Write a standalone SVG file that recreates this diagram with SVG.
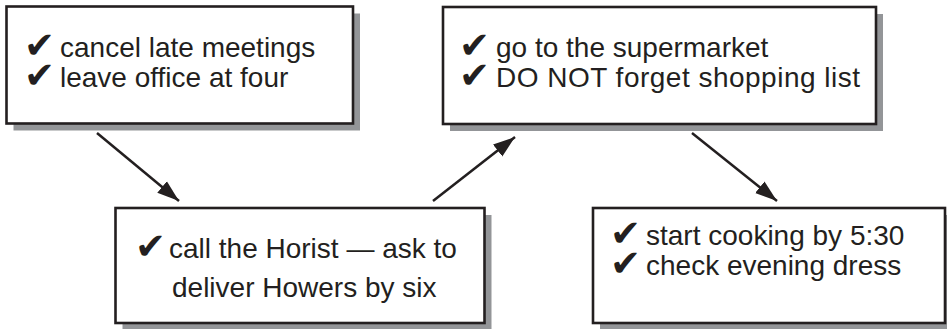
<svg xmlns="http://www.w3.org/2000/svg" width="947" height="329" viewBox="0 0 947 329">
<defs>
<style>
.shadow{fill:#939598;stroke:none}
.box{fill:#ffffff;stroke:#231f20;stroke-width:2.6}
.t{font-family:"Liberation Sans",Arial,sans-serif;font-size:28px;fill:#231f20}
.ck{font-family:"DejaVu Sans",sans-serif;font-size:37px;fill:#231f20}
.arr{stroke:#231f20;stroke-width:2.5;fill:none;marker-end:url(#ah)}
</style>
<marker id="ah" markerUnits="userSpaceOnUse" markerWidth="24" markerHeight="18" refX="22" refY="9" orient="auto">
<path d="M0,1.5 L22,9 L0,16.5 Z" fill="#231f20"/>
</marker>
</defs>
<rect width="947" height="329" fill="#ffffff"/>
<g id="connectors">
<line class="arr" x1="97" y1="133" x2="179" y2="201"/>
<line class="arr" x1="433" y1="201" x2="515" y2="137"/>
<line class="arr" x1="692" y1="133" x2="777" y2="201"/>
</g>
<g id="node1">
<rect class="shadow" x="13.5" y="13.5" width="346.5" height="117"/>
<rect class="box" x="6.5" y="6.5" width="346.5" height="117"/>
<text class="ck" x="24" y="58">✔</text>
<text class="t" x="60" y="57">cancel late meetings</text>
<text class="ck" x="24" y="88">✔</text>
<text class="t" x="60" y="87">leave office at four</text>
</g>
<g id="node2">
<rect class="shadow" x="450" y="14" width="433" height="117"/>
<rect class="box" x="443" y="7" width="433" height="117"/>
<text class="ck" x="459" y="58">✔</text>
<text class="t" x="496" y="57">go to the supermarket</text>
<text class="ck" x="459" y="88">✔</text>
<text class="t" x="496" y="87" textLength="364">DO NOT forget shopping list</text>
</g>
<g id="node3">
<rect class="shadow" x="122.5" y="215" width="369" height="115"/>
<rect class="box" x="115.5" y="208" width="369" height="115"/>
<text class="ck" x="135" y="259">✔</text>
<text class="t" x="169" y="258">call the Horist — ask to</text>
<text class="t" x="172" y="297">deliver Howers by six</text>
</g>
<g id="node4">
<rect class="shadow" x="600" y="215" width="352" height="115"/>
<rect class="box" x="593" y="208" width="352" height="115"/>
<text class="ck" x="610" y="246">✔</text>
<text class="t" x="646" y="245">start cooking by 5:30</text>
<text class="ck" x="610" y="276">✔</text>
<text class="t" x="646" y="275">check evening dress</text>
</g>
</svg>
